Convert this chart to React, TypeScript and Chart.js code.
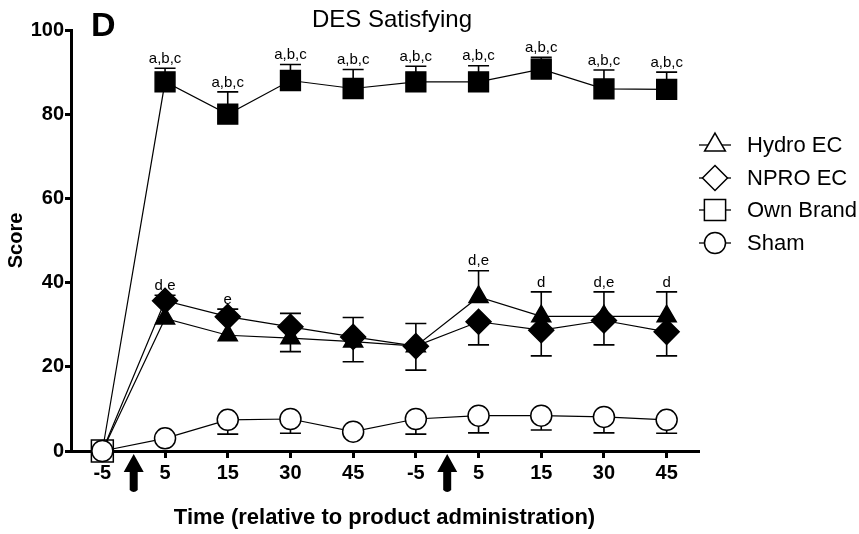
import React, { useEffect, useRef } from 'react';
import { Chart, registerables } from 'chart.js';

Chart.register(...registerables);

// ---------- data ----------
const xLabels = ['-5', '5', '15', '30', '45', '-5', '5', '15', '30', '45'];
const arrowPositions = [0.5, 5.5];

const hydroEC = [0, 31.5, 27.5, 26.8, 26, 24.9, 36.6, 32, 32, 32];
const hydroErrUp = [0, 0, 0, 0, 0, 0, 6.2, 5.8, 5.8, 5.8];
const hydroErrDown = [0, 0, 0, 3.2, 4.8, 5.7, 0, 0, 0, 0];

const nproEC = [0, 35.7, 31.9, 29.5, 27.1, 24.9, 30.7, 28.7, 31, 28.3];
const nproErrUp = [0, 1.3, 1.8, 3.2, 4.6, 5.4, 0, 0, 0, 0];
const nproErrDown = [0, 0, 0, 0, 0, 0, 5.5, 6.1, 5.8, 5.7];

const ownBrand = [0, 87.7, 80, 88, 86.1, 87.7, 87.7, 90.7, 86, 85.9];
const ownErrUp = [0, 3.2, 5.3, 3.8, 4.5, 3.7, 3.8, 2.8, 4.5, 4.1];
const ownErrDown = [0, 0, 0, 0, 0, 0, 0, 0, 0, 0];

const sham = [0, 3, 7.4, 7.6, 4.6, 7.6, 8.4, 8.4, 8.1, 7.4];
const shamErrUp = [0, 0, 0, 0, 0, 0, 0, 0, 0, 0];
const shamErrDown = [0, 0, 3.4, 3.4, 0, 3.6, 4.1, 3.4, 3.8, 3.2];

const ownLabels = ['', 'a,b,c', 'a,b,c', 'a,b,c', 'a,b,c', 'a,b,c', 'a,b,c', 'a,b,c', 'a,b,c', 'a,b,c'];
const ecLabels = ['', 'd,e', 'e', '', '', '', 'd,e', 'd', 'd,e', 'd'];

const seriesNames = ['Hydro EC', 'NPRO EC', 'Own Brand', 'Sham'];
const yTicks = [0, 20, 40, 60, 80, 100];

const titleText = 'DES Satisfying';
const panelLetter = 'D';
const xTitle = 'Time (relative to product administration)';
const yTitle = 'Score';

// ---------- styling ----------
const FONT = '"Liberation Sans", Arial, Helvetica, sans-serif';
const styles = ['triangle', 'rectRot', 'rect', 'circle'];
const radii = [11, 12.5, 14, 10.5];
const legendRadii = [12, 12.5, 15, 10.5];

const series = [
  { values: hydroEC, up: hydroErrUp, down: hydroErrDown },
  { values: nproEC, up: nproErrUp, down: nproErrDown },
  { values: ownBrand, up: ownErrUp, down: ownErrDown },
  { values: sham, up: shamErrUp, down: shamErrDown },
];

function markerPath(ctx: CanvasRenderingContext2D, style: string, x: number, y: number, r: number) {
  ctx.beginPath();
  if (style === 'triangle') {
    ctx.moveTo(x, y - r);
    ctx.lineTo(x + r * 0.866, y + r * 0.5);
    ctx.lineTo(x - r * 0.866, y + r * 0.5);
    ctx.closePath();
  } else if (style === 'rectRot') {
    ctx.moveTo(x, y - r);
    ctx.lineTo(x + r, y);
    ctx.lineTo(x, y + r);
    ctx.lineTo(x - r, y);
    ctx.closePath();
  } else if (style === 'rect') {
    const s = r * Math.SQRT1_2;
    ctx.rect(x - s, y - s, 2 * s, 2 * s);
  } else {
    ctx.arc(x, y, r, 0, Math.PI * 2);
  }
}

const errorBarPlugin = {
  id: 'errorBars',
  beforeDatasetsDraw(chart: any) {
    const { ctx } = chart;
    const xs = chart.scales.x;
    const ys = chart.scales.y;
    ctx.save();
    ctx.strokeStyle = '#000';
    ctx.lineWidth = 1.6;
    const cap = 10.5;
    series.forEach((s) => {
      s.values.forEach((v, i) => {
        const px = xs.getPixelForValue(i);
        const py = ys.getPixelForValue(v);
        const draw = (end: number) => {
          const t = ys.getPixelForValue(end);
          ctx.beginPath();
          ctx.moveTo(px, py);
          ctx.lineTo(px, t);
          ctx.moveTo(px - cap, t);
          ctx.lineTo(px + cap, t);
          ctx.stroke();
        };
        if (s.up[i] > 0) draw(v + s.up[i]);
        if (s.down[i] > 0) draw(v - s.down[i]);
      });
    });
    ctx.restore();
  },
};

const decorPlugin = {
  id: 'decor',
  afterDraw(chart: any) {
    const { ctx, chartArea } = chart;
    const xs = chart.scales.x;
    const ys = chart.scales.y;
    ctx.save();

    // significance labels
    ctx.fillStyle = '#000';
    ctx.font = `15px ${FONT}`;
    ctx.textAlign = 'center';
    ctx.textBaseline = 'bottom';
    ownLabels.forEach((lab, i) => {
      if (!lab) return;
      const top = ys.getPixelForValue(ownBrand[i] + ownErrUp[i]);
      ctx.fillText(lab, xs.getPixelForValue(i), top - 2);
    });
    ecLabels.forEach((lab, i) => {
      if (!lab) return;
      const tops = [hydroEC[i] + hydroErrUp[i], nproEC[i] + nproErrUp[i]];
      const top = ys.getPixelForValue(Math.max(...tops));
      ctx.fillText(lab, xs.getPixelForValue(i), top - 2);
    });

    // arrows
    const b = chartArea.bottom;
    arrowPositions.forEach((p) => {
      const x = xs.getPixelForValue(p);
      ctx.beginPath();
      ctx.moveTo(x, b + 3);
      ctx.lineTo(x + 10, b + 21);
      ctx.lineTo(x + 4, b + 21);
      ctx.lineTo(x + 4, b + 39);
      ctx.quadraticCurveTo(x, b + 43, x - 4, b + 39);
      ctx.lineTo(x - 4, b + 21);
      ctx.lineTo(x - 10, b + 21);
      ctx.closePath();
      ctx.fill();
    });

    // title and panel letter
    ctx.textBaseline = 'alphabetic';
    ctx.font = `24px ${FONT}`;
    ctx.textAlign = 'center';
    ctx.fillText(titleText, 392, 27);
    ctx.font = `bold 34px ${FONT}`;
    ctx.textAlign = 'left';
    ctx.fillText(panelLetter, 91, 36);

    // legend
    const legendY = [145, 178, 210, 243];
    ctx.font = `22px ${FONT}`;
    ctx.textBaseline = 'middle';
    seriesNames.forEach((name, k) => {
      const cy = legendY[k];
      const cx = 715;
      ctx.strokeStyle = '#000';
      ctx.lineWidth = 1.3;
      ctx.beginPath();
      ctx.moveTo(699, cy);
      ctx.lineTo(731, cy);
      ctx.stroke();
      markerPath(ctx, styles[k], cx, cy, legendRadii[k]);
      ctx.fillStyle = '#fff';
      ctx.fill();
      ctx.lineWidth = 1.5;
      ctx.stroke();
      ctx.fillStyle = '#000';
      ctx.fillText(name, 747, cy + 1);
    });

    ctx.restore();
  },
};

export default function App() {
  const ref = useRef<HTMLCanvasElement | null>(null);

  useEffect(() => {
    if (!ref.current) return;
    const allValues = [hydroEC, nproEC, ownBrand, sham];
    const orders = [2, 1, 3, 0];
    const datasets = allValues.map((vals, k) => ({
      label: seriesNames[k],
      data: vals,
      borderColor: '#000',
      borderWidth: 1.2,
      pointStyle: styles[k],
      pointRadius: vals.map((_, i) => (i === 0 ? (k < 2 ? 0 : k === 2 ? 15.5 : radii[k]) : radii[k])),
      pointBackgroundColor: vals.map((_, i) => (i === 0 || k === 3 ? '#fff' : '#000')),
      pointBorderColor: '#000',
      pointBorderWidth: 1.5,
      tension: 0,
      fill: false,
      clip: false,
      order: orders[k],
    }));

    const chart = new Chart(ref.current, {
      type: 'line',
      data: { labels: xLabels, datasets },
      plugins: [errorBarPlugin, decorPlugin],
      options: {
        responsive: false,
        animation: false,
        layout: { padding: { left: 0, top: 30, right: 161, bottom: 0 } },
        plugins: {
          legend: { display: false },
          title: { display: false },
          tooltip: { enabled: false },
        },
        font: { family: FONT },
        scales: {
          x: {
            type: 'category',
            offset: true,
            afterFit(scale: any) {
              scale.height = 83;
            },
            grid: {
              display: true,
              offset: false,
              drawOnChartArea: false,
              drawTicks: true,
              tickLength: 7,
              color: '#000',
              lineWidth: 3,
            },
            border: { display: true, color: '#000', width: 3 },
            ticks: {
              color: '#000',
              font: { family: FONT, size: 20, weight: 'bold' },
              padding: 3,
              maxRotation: 0,
              autoSkip: false,
            },
            title: {
              display: true,
              text: xTitle,
              color: '#000',
              font: { family: FONT, size: 22, weight: 'bold' },
              padding: { top: 0, bottom: 3 },
            },
          },
          y: {
            min: 0,
            max: 100,
            afterFit(scale: any) {
              scale.width = 71;
            },
            afterBuildTicks(scale: any) {
              scale.ticks = yTicks.map((v) => ({ value: v }));
            },
            grid: {
              display: true,
              drawOnChartArea: false,
              drawTicks: true,
              tickLength: 6,
              color: '#000',
              lineWidth: 3,
            },
            border: { display: true, color: '#000', width: 3 },
            ticks: {
              color: '#000',
              font: { family: FONT, size: 20, weight: 'bold' },
              padding: 1,
            },
            title: {
              display: true,
              text: yTitle,
              color: '#000',
              font: { family: FONT, size: 20, weight: 'bold' },
              padding: { top: 4, bottom: 0 },
            },
          },
        },
      } as any,
    });
    return () => chart.destroy();
  }, []);

  return (
    <div style={{ position: 'fixed', left: 0, top: 0, width: 859, height: 534, background: '#fff' }}>
      <canvas ref={ref} width={859} height={534} style={{ display: 'block' }} />
    </div>
  );
}
